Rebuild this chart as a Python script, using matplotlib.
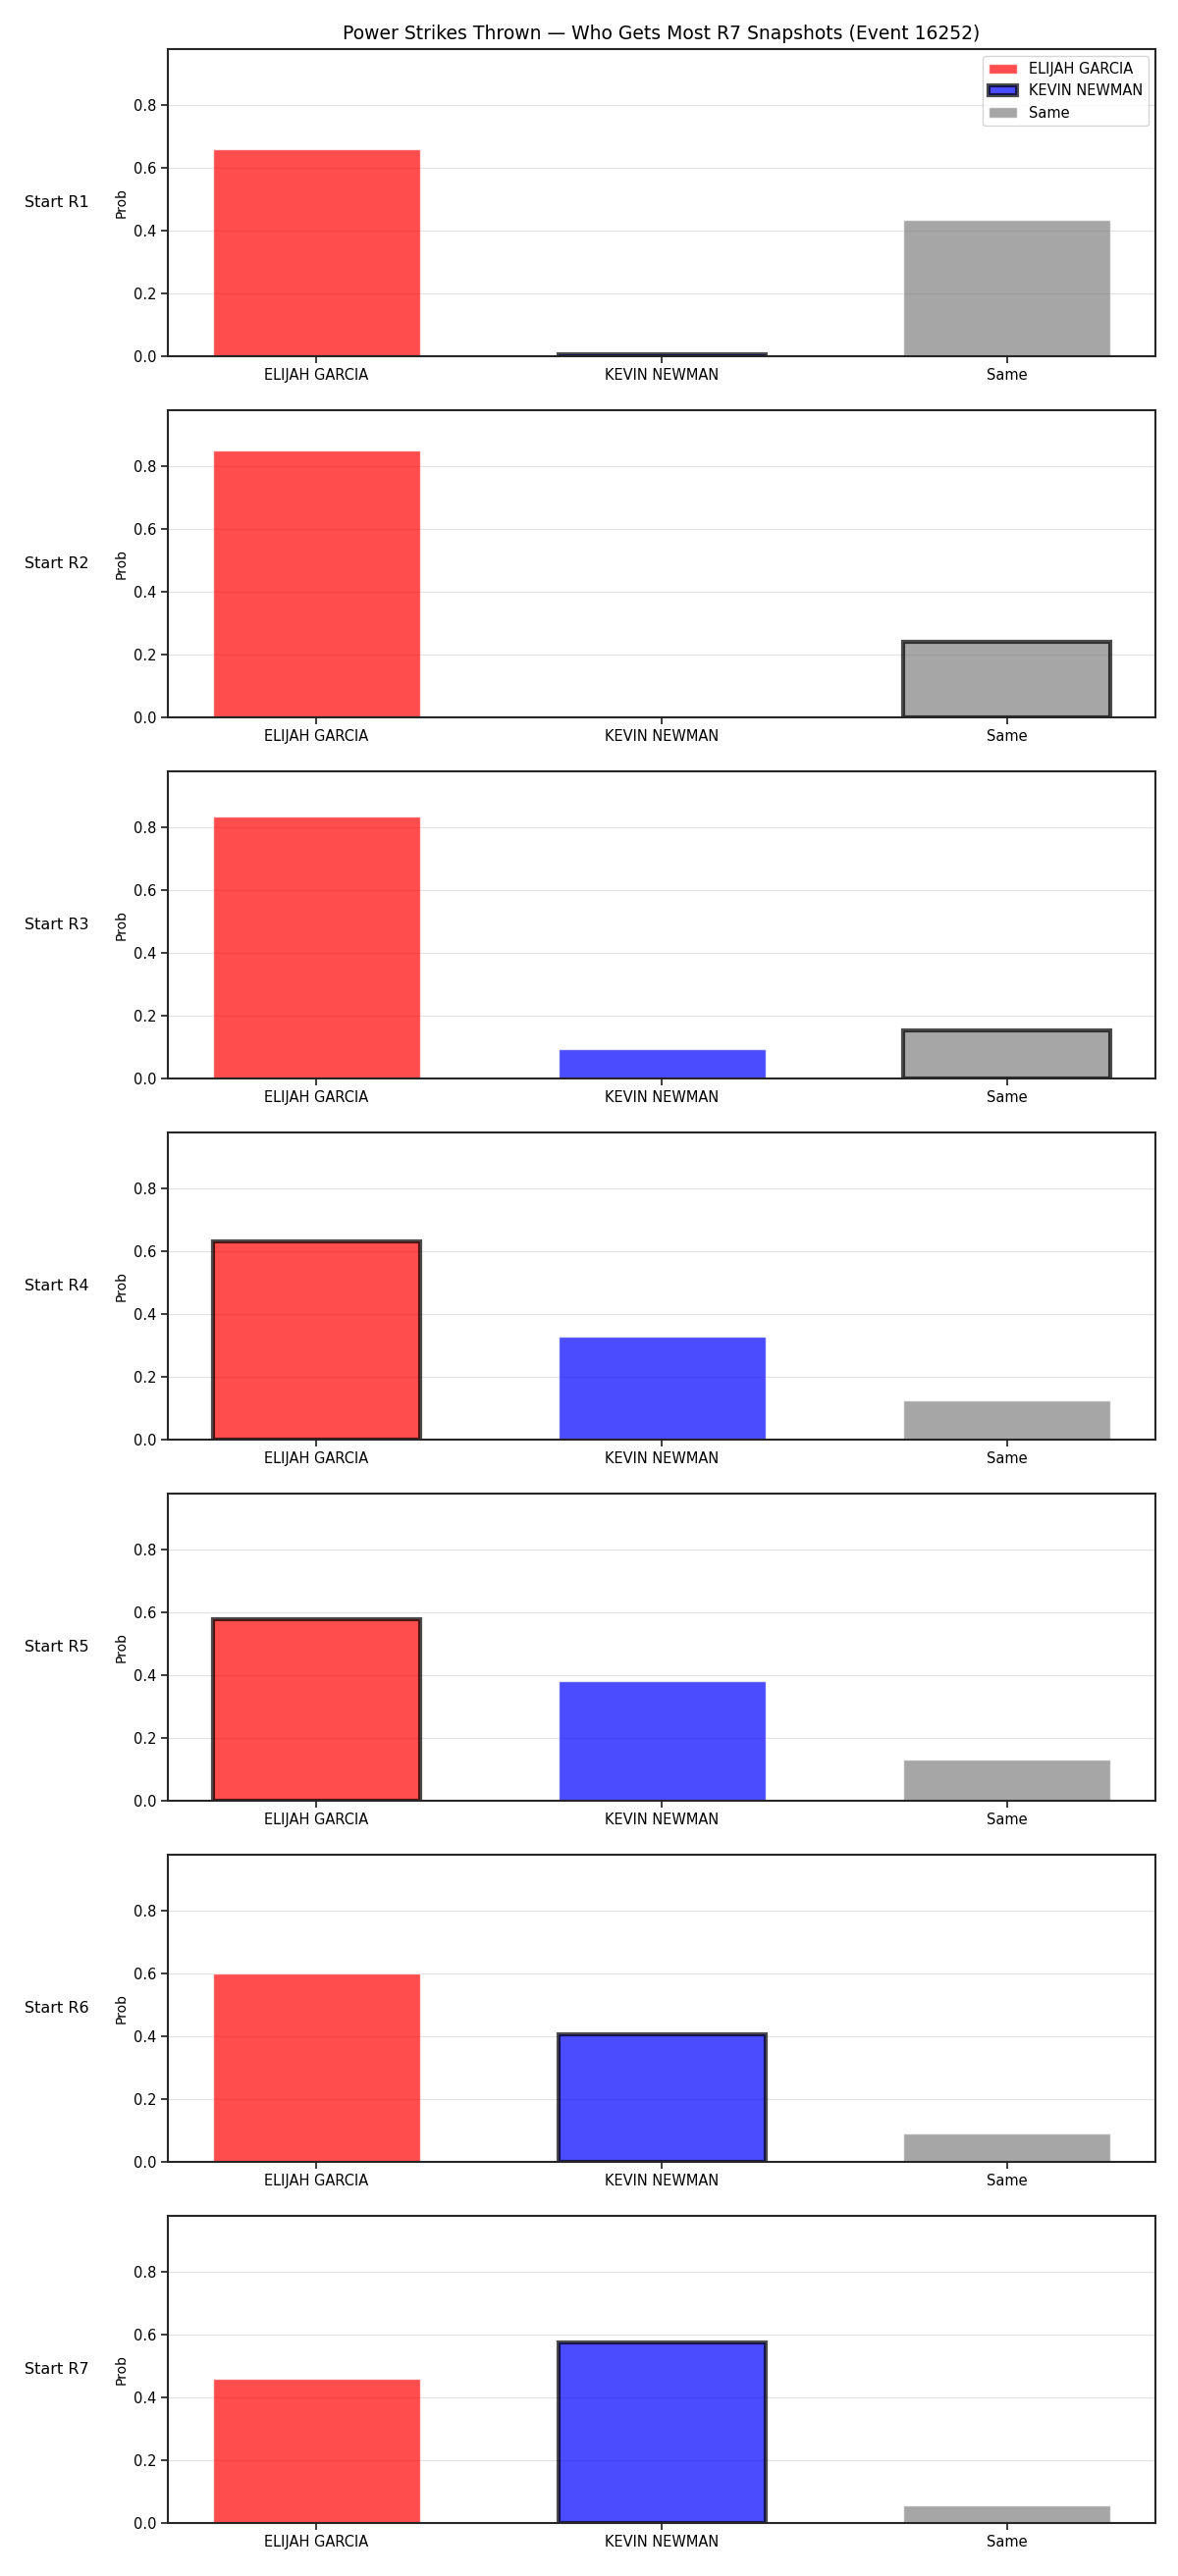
import matplotlib
matplotlib.use("Agg")
import matplotlib.pyplot as plt
import numpy as np

# data
outcomes = ["ELIJAH GARCIA", "KEVIN NEWMAN", "Same"]
rounds = ["Start R1", "Start R2", "Start R3", "Start R4", "Start R5", "Start R6", "Start R7"]
elijah = [0.659, 0.852, 0.837, 0.633, 0.580, 0.601, 0.460]
kevin = [0.005, 0.002, 0.094, 0.329, 0.382, 0.408, 0.575]
same = [0.434, 0.240, 0.152, 0.125, 0.131, 0.089, 0.057]
# which outcome is outlined in each round
picked = [1, 2, 2, 0, 0, 1, 1]

colors = ["red", "blue", "gray"]
title = "Power Strikes Thrown \u2014 Who Gets Most R7 Snapshots (Event 16252)"

ymax = max(elijah + kevin + same) * 1.15

fig, axes = plt.subplots(7, 1, figsize=(12, 26.25), dpi=100)
fig.subplots_adjust(left=0.1425, right=0.981, top=0.981, bottom=0.0206, hspace=0.176)

x = np.arange(len(outcomes))
for i, ax in enumerate(axes):
    vals = [elijah[i], kevin[i], same[i]]
    for j in range(3):
        if j == picked[i]:
            ax.bar(x[j], vals[j], width=0.6, color=colors[j], alpha=0.7,
                   edgecolor="black", linewidth=3, label=outcomes[j])
        else:
            ax.bar(x[j], vals[j], width=0.6, color=colors[j], alpha=0.7,
                   edgecolor="white", linewidth=1, label=outcomes[j])
    ax.set_xticks(x)
    ax.set_xticklabels(outcomes, fontsize=10)
    ax.set_ylim(0, ymax)
    ax.set_yticks([0, 0.2, 0.4, 0.6, 0.8])
    ax.tick_params(labelsize=10.5, length=5, width=1.25, color="#262626")
    ax.set_ylabel("Prob", fontsize=10)
    ax.grid(axis="y", color="#e3e3e3", linewidth=0.9)
    ax.set_axisbelow(True)
    for s in ax.spines.values():
        s.set_linewidth(1.5)
        s.set_color("#262626")
    ax.text(-0.08, 0.5, rounds[i], transform=ax.transAxes, ha="right", va="center",
            fontsize=11.5)
    if i == 0:
        ax.set_title(title, fontsize=13.5, pad=7)
        ax.legend(loc="upper right", fontsize=10.5)

plt.savefig("out.png", dpi=100)
